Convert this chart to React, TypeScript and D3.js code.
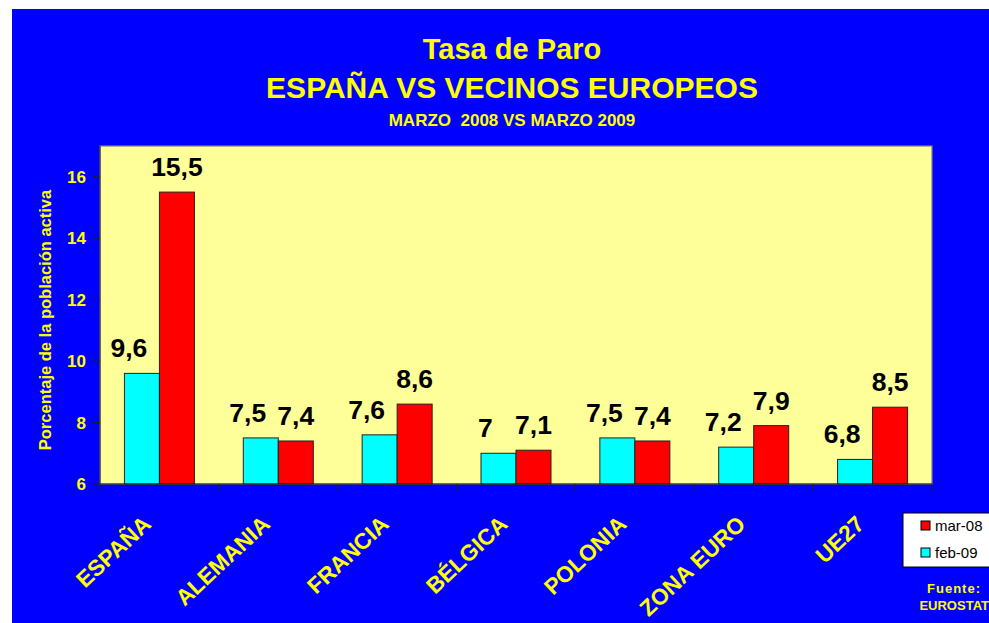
import React, { useRef, useEffect } from "react";
import * as d3 from "d3";

const categories = ["ESPAÑA", "ALEMANIA", "FRANCIA", "BÉLGICA", "POLONIA", "ZONA EURO", "UE27"];
const feb09 = [9.6, 7.5, 7.6, 7, 7.5, 7.2, 6.8];
const mar08 = [15.5, 7.4, 8.6, 7.1, 7.4, 7.9, 8.5];
const yTicks = [6, 8, 10, 12, 14, 16];
const seriesNames = ["feb-09", "mar-08"];
const legendOrder = ["mar-08", "feb-09"];

const FONT = "'Liberation Sans', Arial, sans-serif";
const YELLOW = "#FFFF00";
const colors: Record<string, string> = { "feb-09": "#00FFFF", "mar-08": "#FF0000" };
// the cyan labels sit a little to the left of their bars in the original
const labelShift: Record<string, number> = { "feb-09": -13, "mar-08": 0 };

const App = () => {
  const svgRef = useRef<SVGSVGElement | null>(null);

  useEffect(() => {
    const width = 989;
    const height = 623;
    const svg = d3.select(svgRef.current);
    svg.selectAll("*").remove();
    svg.attr("width", width).attr("height", height);

    // page + blue frame
    svg.append("rect").attr("width", width).attr("height", height).attr("fill", "#fff");
    svg.append("rect").attr("x", 12).attr("y", 9).attr("width", width - 12).attr("height", height - 9).attr("fill", "#0000FF");

    const plot = { left: 100, top: 146, right: 932, bottom: 484 };

    const x = d3.scaleBand<string>().domain(categories).range([plot.left, plot.right]).padding(0);
    const bw = x.bandwidth();
    const xSub = d3
      .scaleBand<string>()
      .domain(seriesNames)
      .range([bw / 2 - 35, bw / 2 + 35]);
    const y = d3.scaleLinear().domain([6, 17]).range([plot.bottom, plot.top]);

    // plot background
    svg
      .append("rect")
      .attr("x", plot.left)
      .attr("y", plot.top)
      .attr("width", plot.right - plot.left)
      .attr("height", plot.bottom - plot.top)
      .attr("fill", "#FFFF99")
      .attr("stroke", "#808080")
      .attr("stroke-width", 1.2);

    // titles
    const titles = [
      { text: "Tasa de Paro", y: 59, size: 29 },
      { text: "ESPAÑA VS VECINOS EUROPEOS", y: 98, size: 30 },
      { text: "MARZO  2008 VS MARZO 2009", y: 126, size: 17 },
    ];
    svg
      .selectAll("text.title")
      .data(titles)
      .enter()
      .append("text")
      .attr("class", "title")
      .attr("x", 512)
      .attr("y", (d) => d.y)
      .attr("text-anchor", "middle")
      .attr("fill", YELLOW)
      .attr("font-family", FONT)
      .attr("font-weight", "bold")
      .attr("font-size", (d) => d.size)
      .style("white-space", "pre")
      .text((d) => d.text);

    // bars
    const rows = categories.map((c, i) => ({ cat: c, values: [
      { name: "feb-09", value: feb09[i] },
      { name: "mar-08", value: mar08[i] },
    ] }));

    const groups = svg
      .selectAll("g.grp")
      .data(rows)
      .enter()
      .append("g")
      .attr("class", "grp")
      .attr("transform", (d) => `translate(${x(d.cat)},0)`);

    groups
      .selectAll("rect")
      .data((d) => d.values)
      .enter()
      .append("rect")
      .attr("x", (d) => xSub(d.name)!)
      .attr("y", (d) => y(d.value))
      .attr("width", xSub.bandwidth())
      .attr("height", (d) => y(6) - y(d.value))
      .attr("fill", (d) => colors[d.name])
      .attr("stroke", "#222")
      .attr("stroke-width", 1);

    groups
      .selectAll("text")
      .data((d) => d.values)
      .enter()
      .append("text")
      .attr("x", (d) => xSub(d.name)! + xSub.bandwidth() / 2 + labelShift[d.name])
      .attr("y", (d) => y(d.value) - 16)
      .attr("text-anchor", "middle")
      .attr("font-family", FONT)
      .attr("font-weight", "bold")
      .attr("font-size", 26.5)
      .attr("fill", "#000")
      .text((d) => String(d.value).replace(".", ","));

    // y axis
    const yAxis = svg.append("g");
    yAxis
      .append("line")
      .attr("x1", plot.left)
      .attr("x2", plot.left)
      .attr("y1", plot.top)
      .attr("y2", plot.bottom)
      .attr("stroke", "#222");
    yAxis
      .selectAll("line.tick")
      .data(yTicks)
      .enter()
      .append("line")
      .attr("class", "tick")
      .attr("x1", plot.left - 7)
      .attr("x2", plot.left)
      .attr("y1", (d) => y(d))
      .attr("y2", (d) => y(d))
      .attr("stroke", "#222");
    yAxis
      .selectAll("text")
      .data(yTicks)
      .enter()
      .append("text")
      .attr("x", plot.left - 14)
      .attr("y", (d) => y(d) + 6)
      .attr("text-anchor", "end")
      .attr("font-family", FONT)
      .attr("font-weight", "bold")
      .attr("font-size", 17)
      .attr("fill", YELLOW)
      .text((d) => d);

    svg
      .append("text")
      .attr("transform", `translate(51, ${(plot.top + plot.bottom) / 2 + 5}) rotate(-90)`)
      .attr("text-anchor", "middle")
      .attr("font-family", FONT)
      .attr("font-weight", "bold")
      .attr("font-size", 16.5)
      .attr("fill", YELLOW)
      .text("Porcentaje de la población activa");

    // x axis
    const xAxis = svg.append("g");
    xAxis
      .append("line")
      .attr("x1", plot.left)
      .attr("x2", plot.right)
      .attr("y1", plot.bottom)
      .attr("y2", plot.bottom)
      .attr("stroke", "#222");
    const xTickPos = categories.map((c) => x(c)!).concat([plot.right]);
    xAxis
      .selectAll("line.tick")
      .data(xTickPos)
      .enter()
      .append("line")
      .attr("class", "tick")
      .attr("x1", (d) => d)
      .attr("x2", (d) => d)
      .attr("y1", plot.bottom)
      .attr("y2", plot.bottom + 7)
      .attr("stroke", "#222");
    xAxis
      .selectAll("text")
      .data(categories)
      .enter()
      .append("text")
      .attr("transform", (d) => `translate(${x(d)! + bw / 2 - 7}, 526) rotate(-43)`)
      .attr("text-anchor", "end")
      .attr("font-family", FONT)
      .attr("font-weight", "bold")
      .attr("font-size", 22.5)
      .attr("fill", YELLOW)
      .text((d) => d);

    // legend
    const legend = svg.append("g");
    legend
      .append("rect")
      .attr("x", 903)
      .attr("y", 513)
      .attr("width", 100)
      .attr("height", 54)
      .attr("fill", "#fff")
      .attr("stroke", "#000")
      .attr("stroke-width", 1);
    const items = legend
      .selectAll("g")
      .data(legendOrder)
      .enter()
      .append("g")
      .attr("transform", (d, i) => `translate(921, ${521 + i * 27})`);
    items
      .append("rect")
      .attr("width", 9)
      .attr("height", 9)
      .attr("fill", (d) => colors[d])
      .attr("stroke", "#000");
    items
      .append("text")
      .attr("x", 14)
      .attr("y", 10)
      .attr("font-family", FONT)
      .attr("font-size", 15)
      .attr("fill", "#000")
      .text((d) => d);

    // source
    svg
      .append("text")
      .attr("x", 954)
      .attr("y", 593)
      .attr("text-anchor", "middle")
      .attr("font-family", FONT)
      .attr("font-weight", "bold")
      .attr("font-size", 13)
      .attr("letter-spacing", 1)
      .attr("fill", YELLOW)
      .text("Fuente:");
    svg
      .append("text")
      .attr("x", 989)
      .attr("y", 610)
      .attr("text-anchor", "end")
      .attr("font-family", FONT)
      .attr("font-weight", "bold")
      .attr("font-size", 13)
      .attr("fill", YELLOW)
      .text("EUROSTAT");
  }, []);

  return <svg ref={svgRef} style={{ position: "absolute", left: 0, top: 0 }}></svg>;
};

export default App;
